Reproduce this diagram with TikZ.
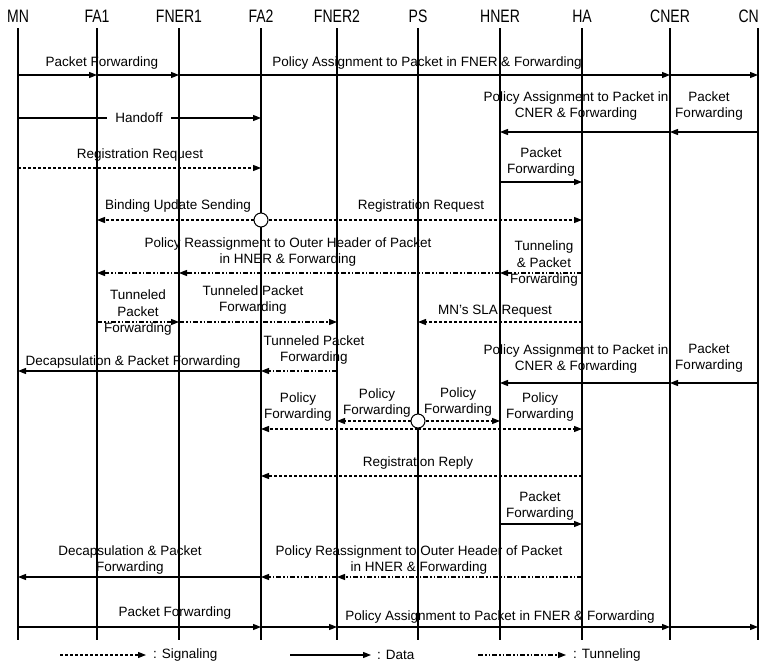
\documentclass[tikz,border=0pt]{standalone}
\usepackage{fontspec}
\setmainfont{Liberation Sans}
\usetikzlibrary{positioning}
\usetikzlibrary{arrows.meta}

\newcommand{\hdr}[1]{\scalebox{0.78}[1]{\fontsize{18}{18}\selectfont #1}}

\begin{document}
\begin{tikzpicture}[x=1pt, y=-1pt,
        entity/.style={inner sep=1pt},
        lifeline/.style={line width=1.3pt},
        lbl/.style={font=\fontsize{13.5}{16.5}\selectfont, align=center, inner sep=1pt},
        data/.style={line width=1.2pt, -{Triangle[length=8pt,width=6pt]}},
        signal/.style={data, dash pattern=on 3pt off 2pt},
        tunnel/.style={data, dash pattern=on 5pt off 2pt on 1.5pt off 2pt on 1.5pt off 2pt},
        junction/.style={circle, draw, fill=white, line width=1pt, minimum size=14pt, inner sep=0pt},
        ]
        \useasboundingbox (0,0) rectangle (760,662);

        %Nodes
        \node[entity] (MN)    at (18,16)  {\hdr{MN}};
        \node[entity] (FA1)   at (97,16)  {\hdr{FA1}};
        \node[entity] (FNER1) at (179,16) {\hdr{FNER1}};
        \node[entity] (FA2)   at (261,16) {\hdr{FA2}};
        \node[entity] (FNER2) at (337,16) {\hdr{FNER2}};
        \node[entity] (PS)    at (418,16) {\hdr{PS}};
        \node[entity] (HNER)  at (500,16) {\hdr{HNER}};
        \node[entity] (HA)    at (582,16) {\hdr{HA}};
        \node[entity] (CNER)  at (670,16) {\hdr{CNER}};
        \node[entity, anchor=east] (CNt) at (760,16) {\hdr{CN}};
        \coordinate (CN) at (758,16);

        \coordinate (top) at (0,28);
        \coordinate (bot) at (0,640);
        \foreach \n in {MN,FA1,FNER1,FA2,FNER2,PS,HNER,HA,CNER,CN}
            \draw[lifeline] (\n |- top) -- (\n |- bot);

        %Rows
        \coordinate (r1)  at (0,75);
        \coordinate (r2)  at (0,118);
        \coordinate (r2b) at (0,132);
        \coordinate (r3)  at (0,168);
        \coordinate (r3b) at (0,182);
        \coordinate (r4)  at (0,220);
        \coordinate (r5)  at (0,273);
        \coordinate (r6)  at (0,322);
        \coordinate (r7)  at (0,371);
        \coordinate (r7b) at (0,383);
        \coordinate (r8)  at (0,421);
        \coordinate (r8b) at (0,429);
        \coordinate (r9)  at (0,476);
        \coordinate (r10) at (0,524);
        \coordinate (r11) at (0,577);
        \coordinate (r12) at (0,627);

        %Lines
        \path (MN |- r1)    edge [data] (FA1 |- r1);
        \path (FA1 |- r1)   edge [data] (FNER1 |- r1);
        \path (FNER1 |- r1) edge [data] (CNER |- r1);
        \path (CNER |- r1)  edge [data] (CN |- r1);
        \node[lbl] (l1a) at (102,63) {Packet Forwarding};
        \node[lbl] (l1b) at (427,63) {Policy Assignment to Packet in FNER \& Forwarding};

        \path (MN |- r2) edge [data] (FA2 |- r2);
        \node[lbl, fill=white, inner xsep=8pt] (l2) at (139,118) {Handoff};

        \path (CN |- r2b)   edge [data] (CNER |- r2b);
        \path (CNER |- r2b) edge [data] (HNER |- r2b);
        \node[lbl] (l2a) at (576,106) {Policy Assignment to Packet in\\CNER \& Forwarding};
        \node[lbl] (l2b) at (709,106) {Packet\\Forwarding};

        \path (MN |- r3) edge [signal] (FA2 |- r3);
        \node[lbl] (l3) at (140,155) {Registration Request};

        \path (HNER |- r3b) edge [data] (HA |- r3b);
        \node[lbl] (l3b) at (541,162) {Packet\\Forwarding};

        \node[junction] (bu) at (FA2 |- r4) {};
        \path (bu) edge [signal] (FA1 |- r4);
        \path (bu) edge [signal] (HA |- r4);
        \node[lbl] (l4a) at (178,206) {Binding Update Sending};
        \node[lbl] (l4b) at (421,206) {Registration Request};

        \path (HA |- r5)    edge [tunnel] (HNER |- r5);
        \path (HNER |- r5)  edge [tunnel] (FNER1 |- r5);
        \path (FNER1 |- r5) edge [tunnel] (FA1 |- r5);
        \node[lbl] (l5a) at (288,252) {Policy Reassignment to Outer Header of Packet\\in HNER \& Forwarding};
        \node[lbl] (l5b) at (544,264) {Tunneling\\\& Packet\\Forwarding};

        \path (FA1 |- r6)   edge [tunnel] (FNER1 |- r6);
        \path (FNER1 |- r6) edge [tunnel] (FNER2 |- r6);
        \path (HA |- r6)    edge [signal] (PS |- r6);
        \node[lbl] (l6a) at (138,313) {Tunneled\\Packet\\Forwarding};
        \node[lbl] (l6b) at (253,300) {Tunneled Packet\\Forwarding};
        \node[lbl] (l6c) at (495,311) {MN's SLA Request};

        \path (FNER2 |- r7) edge [tunnel] (FA2 |- r7);
        \path (FA2 |- r7)   edge [data] (MN |- r7);
        \node[lbl] (l7a) at (314,350) {Tunneled Packet\\Forwarding};
        \node[lbl] (l7b) at (133,362) {Decapsulation \& Packet Forwarding};

        \path (CN |- r7b)   edge [data] (CNER |- r7b);
        \path (CNER |- r7b) edge [data] (HNER |- r7b);
        \node[lbl] (l7c) at (576,359) {Policy Assignment to Packet in\\CNER \& Forwarding};
        \node[lbl] (l7d) at (709,358) {Packet\\Forwarding};

        \node[junction] (pf) at (PS |- r8) {};
        \path (pf) edge [signal] (FNER2 |- r8);
        \path (pf) edge [signal] (HNER |- r8);
        \path (PS |- r8b) edge [signal] (FA2 |- r8b);
        \path (PS |- r8b) edge [signal] (HA |- r8b);
        \node[lbl] (l8a) at (298,407) {Policy\\Forwarding};
        \node[lbl] (l8b) at (377,403) {Policy\\Forwarding};
        \node[lbl] (l8c) at (458,402) {Policy\\Forwarding};
        \node[lbl] (l8d) at (540,407) {Policy\\Forwarding};

        \path (HA |- r9) edge [signal] (FA2 |- r9);
        \node[lbl] (l9) at (418,463) {Registration Reply};

        \path (HNER |- r10) edge [data] (HA |- r10);
        \node[lbl] (l10) at (540,506) {Packet\\Forwarding};

        \path (HA |- r11)    edge [tunnel] (FNER2 |- r11);
        \path (FNER2 |- r11) edge [tunnel] (FA2 |- r11);
        \path (FA2 |- r11)   edge [data] (MN |- r11);
        \node[lbl] (l11a) at (130,560) {Decapsulation \& Packet\\Forwarding};
        \node[lbl] (l11b) at (419,560) {Policy Reassignment to Outer Header of Packet\\in HNER \& Forwarding};

        \path (MN |- r12)    edge [data] (FA2 |- r12);
        \path (FA2 |- r12)   edge [data] (FNER2 |- r12);
        \path (FNER2 |- r12) edge [data] (CNER |- r12);
        \path (CNER |- r12)  edge [data] (CN |- r12);
        \node[lbl] (l12a) at (175,613) {Packet Forwarding};
        \node[lbl] (l12b) at (500,617) {Policy Assignment to Packet in FNER \& Forwarding};

        %Legend
        \coordinate (lgs) at (60,655);
        \coordinate (lgd) at (290,655);
        \coordinate (lgt) at (478,655);
        \node[lbl, anchor=west] (sig) at (152,655) {: Signaling};
        \node[lbl, anchor=west] (dat) at (376,655) {: Data};
        \node[lbl, anchor=west] (tun) at (572,655) {: Tunneling};
        \path (lgs) edge [signal] ([xshift=-6pt]sig.west);
        \path (lgd) edge [data]   ([xshift=-5pt]dat.west);
        \path (lgt) edge [tunnel] ([xshift=-6pt]tun.west);
    \end{tikzpicture}
\end{document}
